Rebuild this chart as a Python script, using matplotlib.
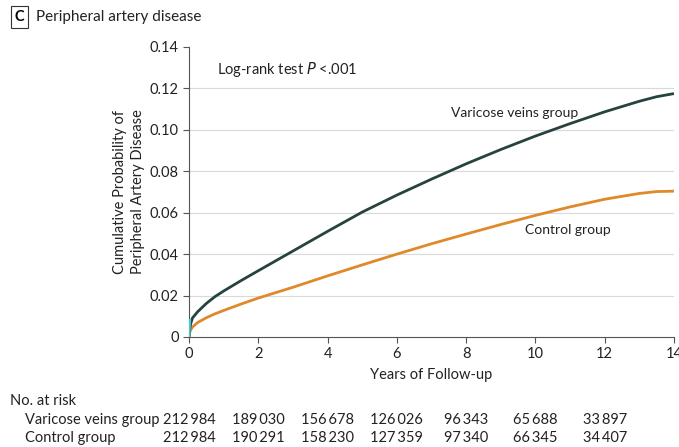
import matplotlib
matplotlib.use("Agg")
import matplotlib.pyplot as plt

plt.rcParams['font.family'] = ['Lato', 'DejaVu Sans']

years = [0, 0.02, 0.05, 0.1, 0.25, 0.5, 0.75, 1, 1.5, 2, 3, 4, 5, 6, 7, 8, 9, 10, 11, 12, 13, 13.5, 14]
varicose = [0, 0.004, 0.0065, 0.0092, 0.0122, 0.0162, 0.0195, 0.0222, 0.0272, 0.032, 0.0415, 0.051, 0.0603, 0.0685, 0.0762, 0.0836, 0.0905, 0.097, 0.103, 0.1087, 0.1138, 0.116, 0.1175]
control = [0, 0.0022, 0.0035, 0.0048, 0.007, 0.0093, 0.0112, 0.0128, 0.0159, 0.0188, 0.024, 0.0295, 0.0348, 0.040, 0.045, 0.0497, 0.0543, 0.0587, 0.0628, 0.0665, 0.0693, 0.0702, 0.0704]

risk_years = [0, 2, 4, 6, 8, 10, 12]
risk_varicose = ["212\u2009984", "189\u2009030", "156\u2009678", "126\u2009026", "96\u2009343", "65\u2009688", "33\u2009897"]
risk_control = ["212\u2009984", "190\u2009291", "158\u2009230", "127\u2009359", "97\u2009340", "66\u2009345", "34\u2009407"]

yticks = [0, 0.02, 0.04, 0.06, 0.08, 0.10, 0.12, 0.14]
ytick_labels = ["0", "0.02", "0.04", "0.06", "0.08", "0.10", "0.12", "0.14"]
xticks = [0, 2, 4, 6, 8, 10, 12, 14]

FS = 10.5
TC = '#222222'

fig = plt.figure(figsize=(6.79, 4.47), dpi=100)
ax = fig.add_axes([0.2784, 0.2461, 0.7142, 0.6488])

ax.plot(years, control, color='#e0892a', lw=2.0, zorder=3, solid_capstyle='butt')
ax.plot(years, varicose, color='#26433f', lw=2.0, zorder=4, solid_capstyle='butt')
ax.plot([0, 0.02], [0, 0.008], color='#40c8e0', lw=2, zorder=5)

ax.set_xlim(0, 14)
ax.set_ylim(0, 0.14)
ax.set_yticks(yticks)
ax.set_yticklabels(ytick_labels)
ax.set_xticks(xticks)
ax.set_xticklabels([str(x) for x in xticks])
for y in yticks[1:-1]:
    ax.axhline(y, color='#d9d9d9', lw=0.8, zorder=1)

for s in ['top', 'right']:
    ax.spines[s].set_visible(False)
for s in ['left', 'bottom']:
    ax.spines[s].set_color('#555555')
    ax.spines[s].set_linewidth(0.8)
ax.tick_params(axis='both', colors='#555555', labelcolor=TC, labelsize=FS, length=4, width=0.8)

ax.set_xlabel("Years of Follow-up", fontsize=FS, color=TC, labelpad=5)
ax.set_ylabel("Cumulative Probability of\nPeripheral Artery Disease", fontsize=FS, color=TC, labelpad=3, linespacing=1.4)

ax.text(0.82, 0.129, "Log-rank test $\\mathit{P}$ <.001", fontsize=FS, color=TC, va='center')
ax.text(7.57, 0.108, "Varicose veins group", fontsize=FS - 0.5, color=TC, va='center')
ax.text(9.71, 0.0518, "Control group", fontsize=FS - 0.5, color=TC, va='center')

# panel label
fig.text(19.5/679, 1 - 17/447, "C", fontsize=FS, fontweight='bold', ha='center', va='center',
         bbox=dict(boxstyle='square,pad=0.25', fc='white', ec='#333333', lw=0.8))
fig.text(36/679, 1 - 17/447, "Peripheral artery disease", fontsize=FS + 0.5, ha='left', va='center', color=TC)

# risk table
fig.text(10/679, 1 - 401/447, "No. at risk", fontsize=FS, ha='left', va='center', color=TC)
fig.text(25/679, 1 - 420/447, "Varicose veins group", fontsize=FS, ha='left', va='center', color=TC)
fig.text(25/679, 1 - 438/447, "Control group", fontsize=FS, ha='left', va='center', color=TC)
for x, a, b in zip(risk_years, risk_varicose, risk_control):
    ax.annotate(a, xy=(x, 0), xycoords=('data', 'axes fraction'), xytext=(0, -60), textcoords='offset points',
                ha='center', va='center', fontsize=FS, color=TC, annotation_clip=False)
    ax.annotate(b, xy=(x, 0), xycoords=('data', 'axes fraction'), xytext=(0, -73), textcoords='offset points',
                ha='center', va='center', fontsize=FS, color=TC, annotation_clip=False)

fig.savefig("out.png", dpi=100)
